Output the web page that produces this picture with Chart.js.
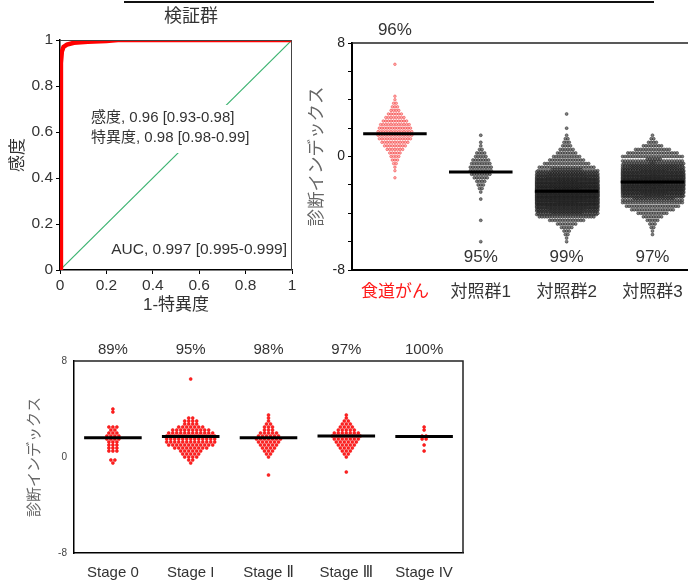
<!DOCTYPE html>
<html>
<head>
<meta charset="utf-8">
<script src="https://cdn.jsdelivr.net/npm/chart.js@4.4.1/dist/chart.umd.min.js"></script>
<style>
body { margin:0; width:688px; height:582px; overflow:hidden; background:#fff; position:relative; }
canvas { position:absolute; }
#rule { position:absolute; left:124px; top:1px; width:530px; height:2px; background:#111; }
</style>
</head>
<body>
<div id="rule"></div>
<canvas id="roc" width="310" height="318" style="left:0;top:0"></canvas>
<canvas id="swarm" width="400" height="310" style="left:300px;top:0"></canvas>
<canvas id="stage" width="480" height="262" style="left:0;top:320px"></canvas>
<script>
const FONT = "'Liberation Sans', Arial, 'DejaVu Sans', 'Noto Sans CJK JP', sans-serif";

// ROC curve (validation set)
const rocTitle = '検証群';
const rocFpr = [0, 0.004, 0.008, 0.015, 0.03, 0.06, 0.12, 0.2, 0.25, 1];
const rocTpr = [0, 0.9, 0.95, 0.97, 0.98, 0.988, 0.992, 0.996, 1, 1];
const rocStats = ['感度, 0.96 [0.93-0.98]', '特異度, 0.98 [0.98-0.99]'];
const rocAuc = 'AUC, 0.997 [0.995-0.999]';

// diagnostic index by group, counts per 0.25 bin starting at groupStart
const binStep = 0.25;
const groups = ['食道がん', '対照群1', '対照群2', '対照群3'];
const groupPct = ['96%', '95%', '99%', '97%'];
const groupMedian = [1.6, -1.1, -2.45, -1.8];
const groupStart = [-1.5, -6.0, -6.0, -5.5];
const cancerCounts = [1,0,1,1,2,3,4,5,7,9,11,13,14,14,13,12,10,8,6,4,3,2,1,1,0,0,0,0,0,0,0,0,1];
const ctrl1Counts = [1,0,0,0,0,0,1,0,0,0,0,0,1,0,1,2,3,4,6,8,9,9,8,7,5,4,2,1,1,0,1];
const ctrl2Counts = [1,1,2,3,5,8,14,22,60,110,160,200,230,250,260,250,230,200,160,110,60,22,18,14,11,8,6,4,3,2,1,0,1,0,0,0,1];
const ctrl3Counts = [1,1,2,3,5,8,12,17,21,24,40,80,130,170,200,210,200,170,130,90,50,30,24,20,14,8,4,2,1];
const groupCounts = [cancerCounts, ctrl1Counts, ctrl2Counts, ctrl3Counts];

// diagnostic index by stage
const stages = ['Stage 0', 'Stage I', 'Stage Ⅱ', 'Stage Ⅲ', 'Stage IV'];
const stagePct = ['89%', '95%', '98%', '97%', '100%'];
const stageMedian = [1.6, 1.7, 1.6, 1.75, 1.7];
const stageStart = [-0.5, -0.5, -1.5, -1.25, 0.5];
const stage0Counts = [1,2,0,0,3,3,3,3,4,4,3,2,3,0,0,0,0,1,1];
const stage1Counts = [1,2,4,5,6,9,12,13,13,13,12,10,7,4,4,2,0,0,0,0,0,0,0,0,0,0,0,0,1];
const stage2Counts = [1,0,0,0,0,0,1,2,3,4,5,6,7,6,5,3,3,2,1,1,1];
const stage3Counts = [1,0,0,0,0,1,2,3,4,5,6,7,8,7,5,4,3,2,1,1];
const stage4Counts = [1,0,1,0,2,2,0,1,1];
const stageCounts = [stage0Counts, stage1Counts, stage2Counts, stage3Counts, stage4Counts];

// lay out one column of dots, bins that overflow the width get stacked rows
function swarm(idx, start, counts, slotPx, maxSlots, pxPerUnit) {
  const pts = [];
  counts.forEach((n, b) => {
    if (!n) return;
    const v = start + b * binStep;
    const rows = Math.ceil(n / maxSlots);
    let left = n;
    for (let r = 0; r < rows; r++) {
      const m = Math.min(maxSlots, left);
      left -= m;
      const y = rows > 1 ? v + ((r + 0.5) / rows - 0.5) * binStep : v;
      const shift = rows > 1 && r % 2 ? slotPx / 2 : 0;
      for (let j = 0; j < m; j++) {
        const dx = (j - (m - 1) / 2) * slotPx + shift;
        pts.push({ x: idx + dx / pxPerUnit, y: y });
      }
    }
  });
  return pts;
}

function medianLine(i, m) {
  return {
    type: 'line', data: [{ x: i - 0.37, y: m }, { x: i + 0.37, y: m }],
    borderColor: '#000', borderWidth: 3, pointRadius: 0, order: 0
  };
}

const base = {
  responsive: false, animation: false, devicePixelRatio: 1,
  plugins: { legend: { display: false }, tooltip: { enabled: false } }
};

// ---- ROC ----
new Chart(document.getElementById('roc'), {
  type: 'scatter',
  data: {
    datasets: [
      { data: rocFpr.map((x, i) => ({ x: x, y: rocTpr[i] })), showLine: true, borderColor: '#ff0000',
        borderWidth: 4.5, pointRadius: 0, order: 0 },
      { data: [{ x: 0, y: 0 }, { x: 1, y: 1 }], showLine: true, borderColor: '#3cb371',
        borderWidth: 1.2, pointRadius: 0, order: 1 }
    ]
  },
  options: Object.assign({}, base, {
    layout: { padding: { top: 40, right: 18, left: 0, bottom: 0 } },
    scales: {
      x: {
        min: 0, max: 1,
        ticks: { stepSize: 0.2, color: '#333', padding: 2, font: { size: 15.5, family: FONT }, callback: v => +v.toFixed(1) },
        grid: { drawOnChartArea: false, color: '#000', tickLength: 4 },
        border: { color: '#000', width: 1.5 },
        title: { display: true, text: '1-特異度', color: '#333', font: { size: 17, family: FONT }, padding: { bottom: 2 } },
        afterFit: s => { s.height = 48; }
      },
      y: {
        min: 0, max: 1,
        ticks: { stepSize: 0.2, color: '#333', padding: 3, font: { size: 15.5, family: FONT }, callback: v => +v.toFixed(1) },
        grid: { drawOnChartArea: false, color: '#000', tickLength: 4 },
        border: { color: '#000', width: 1.5 },
        title: { display: true, text: '感度', color: '#333', font: { size: 17, family: FONT }, padding: { top: 8 } },
        afterFit: s => { s.width = 60; }
      }
    }
  }),
  plugins: [{
    id: 'rocText',
    afterDatasetsDraw(chart) {
      const { ctx, chartArea: a } = chart;
      ctx.save();
      ctx.strokeStyle = '#444';
      ctx.lineWidth = 1;
      ctx.beginPath();
      ctx.moveTo(a.left, a.top + 0.5); ctx.lineTo(a.right - 0.5, a.top + 0.5); ctx.lineTo(a.right - 0.5, a.bottom);
      ctx.stroke();
      ctx.fillStyle = '#fff';
      ctx.fillRect(88, 105, 164, 48);
      ctx.fillStyle = '#333';
      ctx.font = '15px ' + FONT;
      ctx.textBaseline = 'middle';
      ctx.fillText(rocStats[0], 91, 118);
      ctx.fillText(rocStats[1], 91, 138);
      ctx.textAlign = 'right';
      ctx.font = '15.5px ' + FONT;
      ctx.fillText(rocAuc, 287, 250);
      ctx.textAlign = 'center';
      ctx.font = '18px ' + FONT;
      ctx.fillText(rocTitle, 191, 17);
      ctx.restore();
    }
  }]
});

// ---- groups ----
const groupSets = groupCounts.map((c, i) => ({
  data: swarm(i, groupStart[i], c, 2.6, 24, 86),
  pointRadius: i === 0 ? 1.3 : 1.5,
  pointBackgroundColor: i === 0 ? 'rgba(255,110,110,0.55)' : 'rgba(95,95,95,0.8)',
  pointBorderColor: i === 0 ? 'rgba(235,30,30,0.7)' : 'rgba(0,0,0,0.75)',
  pointBorderWidth: i === 0 ? 0.6 : 0.5, order: 1
})).concat(groupMedian.map((m, i) => medianLine(i, m)));

new Chart(document.getElementById('swarm'), {
  type: 'scatter',
  data: { datasets: groupSets },
  options: Object.assign({}, base, {
    layout: { padding: { top: 43, right: 4, left: 0, bottom: 0 } },
    scales: {
      x: {
        type: 'linear', min: -0.5, max: 3.5,
        afterBuildTicks: s => { s.ticks = groups.map((g, i) => ({ value: i })); },
        ticks: { callback: v => groups[v], color: c => (c.tick && c.tick.value === 0 ? '#ff1a1a' : '#333'),
          padding: 12, font: { size: 17, family: FONT } },
        grid: { display: false, drawTicks: false },
        border: { color: '#000', width: 2 },
        afterFit: s => { s.height = 40; }
      },
      y: {
        min: -8, max: 8,
        ticks: { stepSize: 2, callback: v => (v % 8 === 0 ? v : ''), color: '#222', padding: 3, font: { size: 14, family: FONT } },
        grid: { drawOnChartArea: false, color: '#000', tickLength: 4 },
        border: { color: '#000', width: 2 },
        title: { display: true, text: '診断インデックス', color: '#666', font: { size: 17.5, family: FONT }, padding: { top: 7 } },
        afterFit: s => { s.width = 52; }
      }
    }
  }),
  plugins: [{
    id: 'groupText',
    afterDatasetsDraw(chart) {
      const { ctx, chartArea: a, scales } = chart;
      ctx.save();
      ctx.strokeStyle = '#222';
      ctx.lineWidth = 1.5;
      ctx.beginPath();
      ctx.moveTo(a.left, a.top); ctx.lineTo(a.right, a.top);
      ctx.stroke();
      ctx.fillStyle = '#333';
      ctx.font = '17px ' + FONT;
      ctx.textAlign = 'center';
      ctx.textBaseline = 'middle';
      groupPct.forEach((p, i) => {
        ctx.fillText(p, scales.x.getPixelForValue(i), i === 0 ? 30 : 257);
      });
      ctx.restore();
    }
  }]
});

// ---- stages ----
const stageSets = stageCounts.map((c, i) => ({
  data: swarm(i, stageStart[i], c, 4.0, 14, 77.8),
  pointRadius: 1.5,
  pointBackgroundColor: '#f22',
  pointBorderColor: '#e00',
  pointBorderWidth: 0.5, order: 1
})).concat(stageMedian.map((m, i) => medianLine(i, m)));

new Chart(document.getElementById('stage'), {
  type: 'scatter',
  data: { datasets: stageSets },
  options: Object.assign({}, base, {
    layout: { padding: { top: 41, right: 17, left: 0, bottom: 0 } },
    scales: {
      x: {
        type: 'linear', min: -0.5, max: 4.5,
        afterBuildTicks: s => { s.ticks = stages.map((g, i) => ({ value: i })); },
        ticks: { callback: v => stages[v], color: '#333', padding: 11, font: { size: 15, family: FONT } },
        grid: { display: false, drawTicks: false },
        border: { color: '#000', width: 1.5 },
        afterFit: s => { s.height = 29; }
      },
      y: {
        min: -8, max: 8,
        ticks: { stepSize: 8, color: '#444', padding: 7, font: { size: 10, family: FONT } },
        grid: { display: false, drawTicks: false },
        border: { color: '#000', width: 1.5 },
        title: { display: true, text: '診断インデックス', color: '#666', font: { size: 15, family: FONT }, padding: { top: 26 } },
        afterFit: s => { s.width = 74; }
      }
    }
  }),
  plugins: [{
    id: 'stageText',
    afterDatasetsDraw(chart) {
      const { ctx, chartArea: a, scales } = chart;
      ctx.save();
      ctx.strokeStyle = '#222';
      ctx.lineWidth = 1.5;
      ctx.beginPath();
      ctx.moveTo(a.left, a.top); ctx.lineTo(a.right, a.top); ctx.lineTo(a.right, a.bottom);
      ctx.stroke();
      ctx.fillStyle = '#333';
      ctx.font = '15px ' + FONT;
      ctx.textAlign = 'center';
      ctx.textBaseline = 'middle';
      stagePct.forEach((p, i) => {
        ctx.fillText(p, scales.x.getPixelForValue(i), 30);
      });
      ctx.restore();
    }
  }]
});
</script>
</body>
</html>
